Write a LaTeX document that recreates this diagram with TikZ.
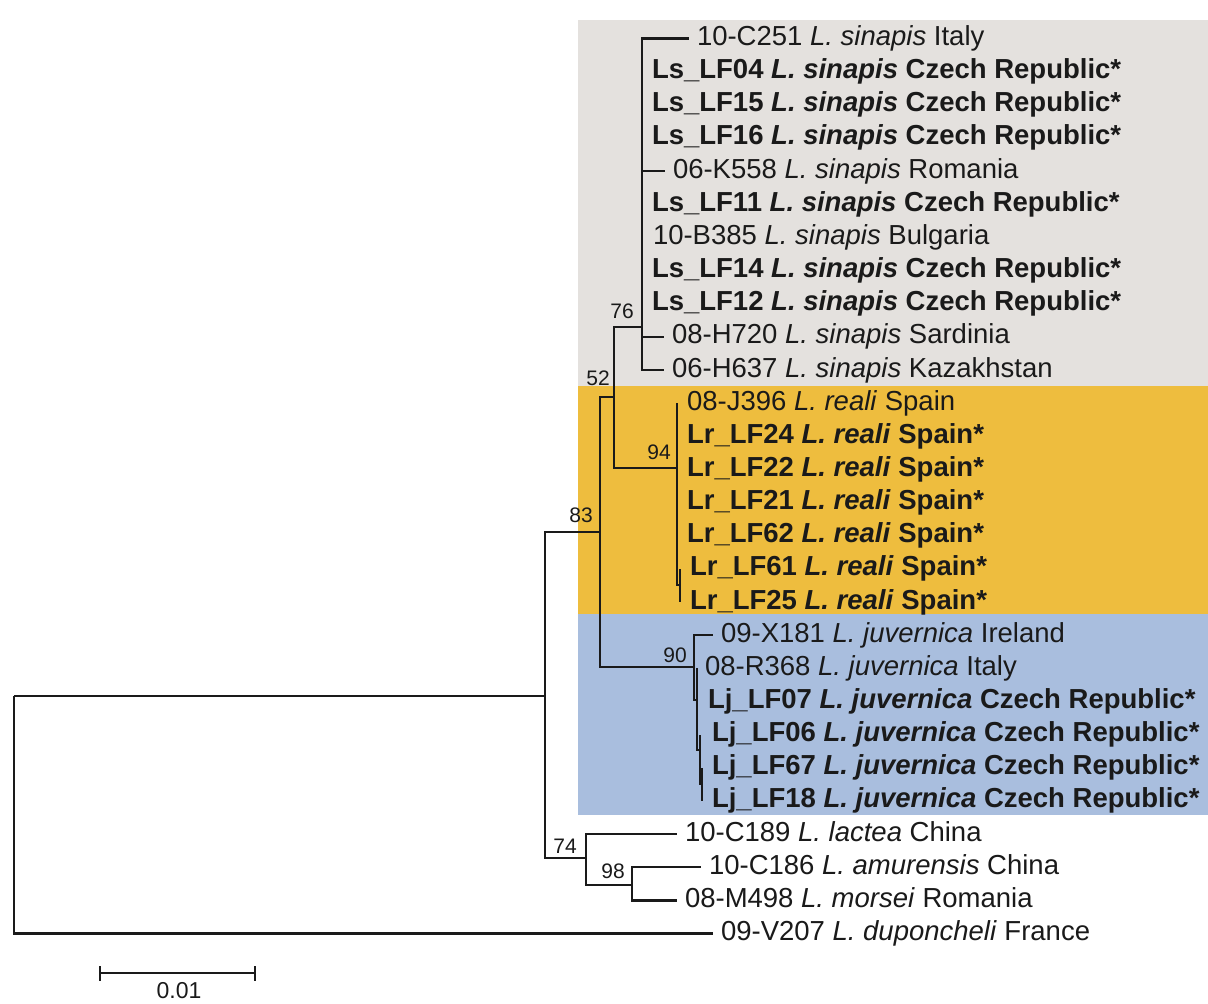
\documentclass[tikz,border=0pt]{standalone}
\usepackage{fontspec}
\setmainfont{Liberation Sans}
\definecolor{bggray}{HTML}{E4E1DE}
\definecolor{bgorange}{HTML}{EEBD3E}
\definecolor{bgblue}{HTML}{A9BEDE}
\definecolor{ink}{HTML}{1A1A1A}
\newcommand{\ry}[1]{38.5+33.15*#1}
\newcommand{\bt}[2]{\textbf{#1 \textit{#2}}}
\begin{document}
\begin{tikzpicture}[x=0.5pt,y=-0.5pt,
  branch/.style={draw=ink, line width=1.15pt},
  taxon/.style={anchor=west, inner sep=0pt, outer xsep=4pt, outer ysep=0pt,
    text height=10pt, text depth=3pt, text=ink, font=\fontsize{13.75}{16}\selectfont},
  zb/.style={outer xsep=#1},
  bs/.style={inner sep=0pt, text=ink, font=\fontsize{10.5}{12}\selectfont},
  sbar/.style={draw=ink, line width=1.4pt}]
\useasboundingbox (0,0) rectangle (1208,1003);
\fill[white] (0,0) rectangle (1208,1003);
% clade backgrounds
\fill[bggray] (578,20) rectangle (1208,386);
\fill[bgorange] (578,386) rectangle (1208,614);
\fill[bgblue] (578,614) rectangle (1208,815);

% internal nodes
\coordinate (root) at (14,696);
\coordinate (nA) at (545,696);
\coordinate (nB) at (600,532);
\coordinate (n52) at (614,397);
\coordinate (n76) at (642,327);
\coordinate (n94) at (677,468);
\coordinate (n94b) at (680,585);
\coordinate (n90) at (694,667);
\coordinate (n90b) at (697,700);
\coordinate (n90c) at (700,750);
\coordinate (n90d) at (702,784);
\coordinate (n74) at (586,858);
\coordinate (n98) at (632,885);

% taxa
\node[taxon] (t0) at (689,{\ry{0}}) {10-C251 \textit{L. sinapis} Italy};
\node[taxon,zb=5pt] (t1) at (642,{\ry{1}}) {\bt{Ls\_LF04}{L. sinapis} \textbf{Czech Republic*}};
\node[taxon,zb=5pt] (t2) at (642,{\ry{2}}) {\bt{Ls\_LF15}{L. sinapis} \textbf{Czech Republic*}};
\node[taxon,zb=5pt] (t3) at (642,{\ry{3}}) {\bt{Ls\_LF16}{L. sinapis} \textbf{Czech Republic*}};
\node[taxon] (t4) at (665,{\ry{4}}) {06-K558 \textit{L. sinapis} Romania};
\node[taxon,zb=5pt] (t5) at (642,{\ry{5}}) {\bt{Ls\_LF11}{L. sinapis} \textbf{Czech Republic*}};
\node[taxon,zb=5.5pt] (t6) at (642,{\ry{6}}) {10-B385 \textit{L. sinapis} Bulgaria};
\node[taxon,zb=5pt] (t7) at (642,{\ry{7}}) {\bt{Ls\_LF14}{L. sinapis} \textbf{Czech Republic*}};
\node[taxon,zb=5pt] (t8) at (642,{\ry{8}}) {\bt{Ls\_LF12}{L. sinapis} \textbf{Czech Republic*}};
\node[taxon] (t9) at (664,{\ry{9}}) {08-H720 \textit{L. sinapis} Sardinia};
\node[taxon] (t10) at (664,{\ry{10}}) {06-H637 \textit{L. sinapis} Kazakhstan};
\node[taxon,zb=5pt] (t11) at (677,{\ry{11}}) {08-J396 \textit{L. reali} Spain};
\node[taxon,zb=5pt] (t12) at (677,{\ry{12}}) {\bt{Lr\_LF24}{L. reali} \textbf{Spain*}};
\node[taxon,zb=5pt] (t13) at (677,{\ry{13}}) {\bt{Lr\_LF22}{L. reali} \textbf{Spain*}};
\node[taxon,zb=5pt] (t14) at (677,{\ry{14}}) {\bt{Lr\_LF21}{L. reali} \textbf{Spain*}};
\node[taxon,zb=5pt] (t15) at (677,{\ry{15}}) {\bt{Lr\_LF62}{L. reali} \textbf{Spain*}};
\node[taxon,zb=5pt] (t16) at (680,{\ry{16}}) {\bt{Lr\_LF61}{L. reali} \textbf{Spain*}};
\node[taxon,zb=5pt] (t17) at (680,{\ry{17}}) {\bt{Lr\_LF25}{L. reali} \textbf{Spain*}};
\node[taxon] (t18) at (713,{\ry{18}}) {09-X181 \textit{L. juvernica} Ireland};
\node[taxon] (t19) at (697,{\ry{19}}) {08-R368 \textit{L. juvernica} Italy};
\node[taxon,zb=5.5pt] (t20) at (697,{\ry{20}}) {\bt{Lj\_LF07}{L. juvernica} \textbf{Czech Republic*}};
\node[taxon,zb=6pt] (t21) at (700,{\ry{21}}) {\bt{Lj\_LF06}{L. juvernica} \textbf{Czech Republic*}};
\node[taxon,zb=5pt] (t22) at (702,{\ry{22}}) {\bt{Lj\_LF67}{L. juvernica} \textbf{Czech Republic*}};
\node[taxon,zb=5pt] (t23) at (702,{\ry{23}}) {\bt{Lj\_LF18}{L. juvernica} \textbf{Czech Republic*}};
\node[taxon] (t24) at (677,{\ry{24}}) {10-C189 \textit{L. lactea} China};
\node[taxon] (t25) at (701,{\ry{25}}) {10-C186 \textit{L. amurensis} China};
\node[taxon] (t26) at (677,{\ry{26}}) {08-M498 \textit{L. morsei} Romania};
\node[taxon] (t27) at (713,{\ry{27}}) {09-V207 \textit{L. duponcheli} France};

% branches
\draw[branch] (root) -- (nA);
\draw[branch] (root) |- (t27);
\draw[branch] (nA) |- (nB);
\draw[branch] (nA) |- (n74);
\draw[branch] (nB) |- (n52);
\draw[branch] (nB) |- (n90);
\draw[branch] (n52) |- (n76);
\draw[branch] (n52) |- (n94);
\foreach \t in {t0,t1,t2,t3,t4,t5,t6,t7,t8,t9,t10} \draw[branch] (n76) |- (\t);
\foreach \t in {t11,t12,t13,t14,t15} \draw[branch] (n94) |- (\t);
\draw[branch] (n94) |- (n94b);
\draw[branch] (n94b) |- (t16);
\draw[branch] (n94b) |- (t17);
\draw[branch] (n90) |- (t18);
\draw[branch] (n90) |- (n90b);
\draw[branch] (n90b) |- (t19);
\draw[branch] (n90b) |- (t20);
\draw[branch] (n90b) |- (n90c);
\draw[branch] (n90c) |- (t21);
\draw[branch] (n90c) |- (n90d);
\draw[branch] (n90d) |- (t22);
\draw[branch] (n90d) |- (t23);
\draw[branch] (n74) |- (t24);
\draw[branch] (n74) |- (n98);
\draw[branch] (n98) |- (t25);
\draw[branch] (n98) |- (t26);

% bootstrap values
\node[bs] (l83) at (581,515.5) {83};
\node[bs] (l52) at (598,378) {52};
\node[bs] (l76) at (622,311) {76};
\node[bs] (l94) at (659,452) {94};
\node[bs] (l90) at (675,655) {90};
\node[bs] (l74) at (565,846) {74};
\node[bs] (l98) at (613,871) {98};

% scale bar
\coordinate (sb1) at (100,973);
\coordinate (sb2) at (255,973);
\draw[sbar] (sb1) -- (sb2);
\draw[sbar] (100,966) -- (100,981);
\draw[sbar] (255,966) -- (255,981);
\node[inner sep=0pt, text=ink, font=\fontsize{11.5}{13}\selectfont] (sblab) at (179,991) {0.01};
\end{tikzpicture}
\end{document}
